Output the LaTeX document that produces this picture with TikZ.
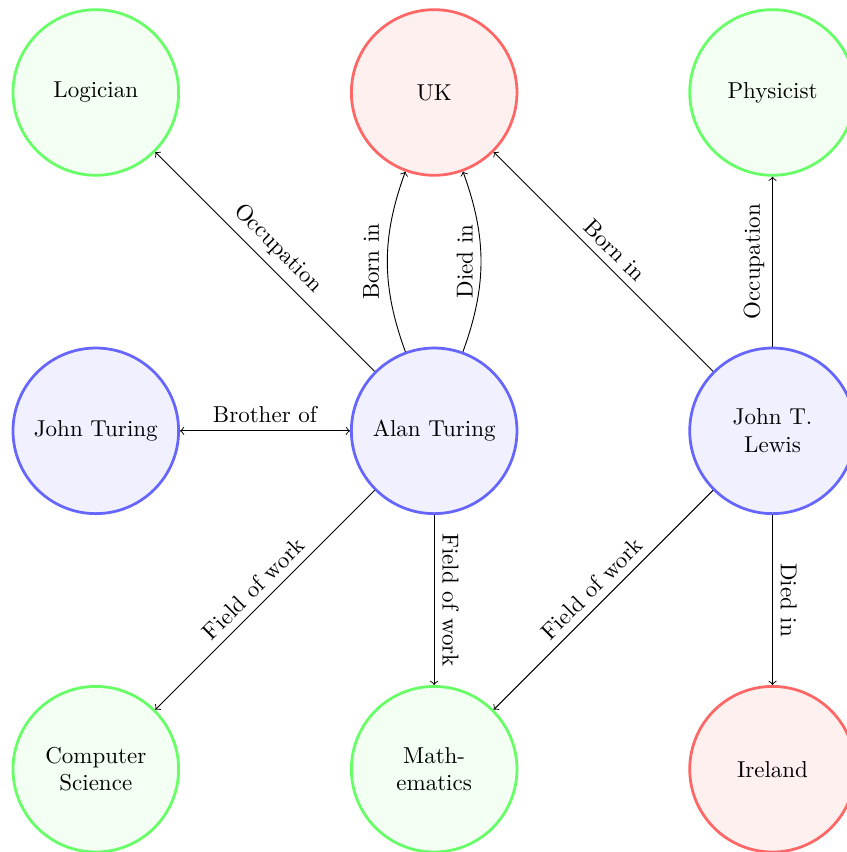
\documentclass[tikz,border=0pt]{standalone}
\begin{document}
\begin{tikzpicture}[
  ent/.style={circle, very thick, minimum size=72pt, inner sep=0pt, align=center},
  person/.style={ent, draw=blue!60, fill=blue!6},
  place/.style={ent, draw=red!60, fill=red!6},
  topic/.style={ent, draw=green!60, fill=green!5},
  rel/.style={->},
  lbl/.style={midway, sloped, above}
]
\useasboundingbox (-41.65pt,40.2pt) rectangle (326.2pt,-330.2pt);

% top row
\node[topic]  (logician)  at (0pt,0pt)         {Logician};
\node[place]  (uk)        at (147.1pt,0pt)     {UK};
\node[topic]  (physicist) at (294.2pt,0pt)     {Physicist};
% middle row
\node[person] (john)      at (0pt,-147.1pt)    {John Turing};
\node[person] (alan)      at (147.1pt,-147.1pt) {Alan Turing};
\node[person] (lewis)     at (294.2pt,-147.1pt) {John T.\\Lewis};
% bottom row
\node[topic]  (cs)        at (0pt,-294.2pt)    {Computer\\Science};
\node[topic]  (math)      at (147.1pt,-294.2pt) {Math-\\ematics};
\node[place]  (ireland)   at (294.2pt,-294.2pt) {Ireland};

% relations of Alan Turing
\draw[rel] (alan) -- node[lbl] {Occupation} (logician);
\draw[rel] (alan) to[bend left=20] node[lbl] {Born in} (uk);
\draw[rel] (alan) to[bend right=20] node[lbl] {Died in} (uk);
\draw[<->] (john) -- node[midway, above] {Brother of} (alan);
\draw[rel] (alan) -- node[lbl] {Field of work} (cs);
\draw[rel] (alan) -- node[lbl] {Field of work} (math);

% relations of John T. Lewis
\draw[rel] (lewis) -- node[lbl] {Born in} (uk);
\draw[rel] (lewis) -- node[lbl] {Occupation} (physicist);
\draw[rel] (lewis) -- node[lbl] {Field of work} (math);
\draw[rel] (lewis) -- node[lbl] {Died in} (ireland);
\end{tikzpicture}
\end{document}
